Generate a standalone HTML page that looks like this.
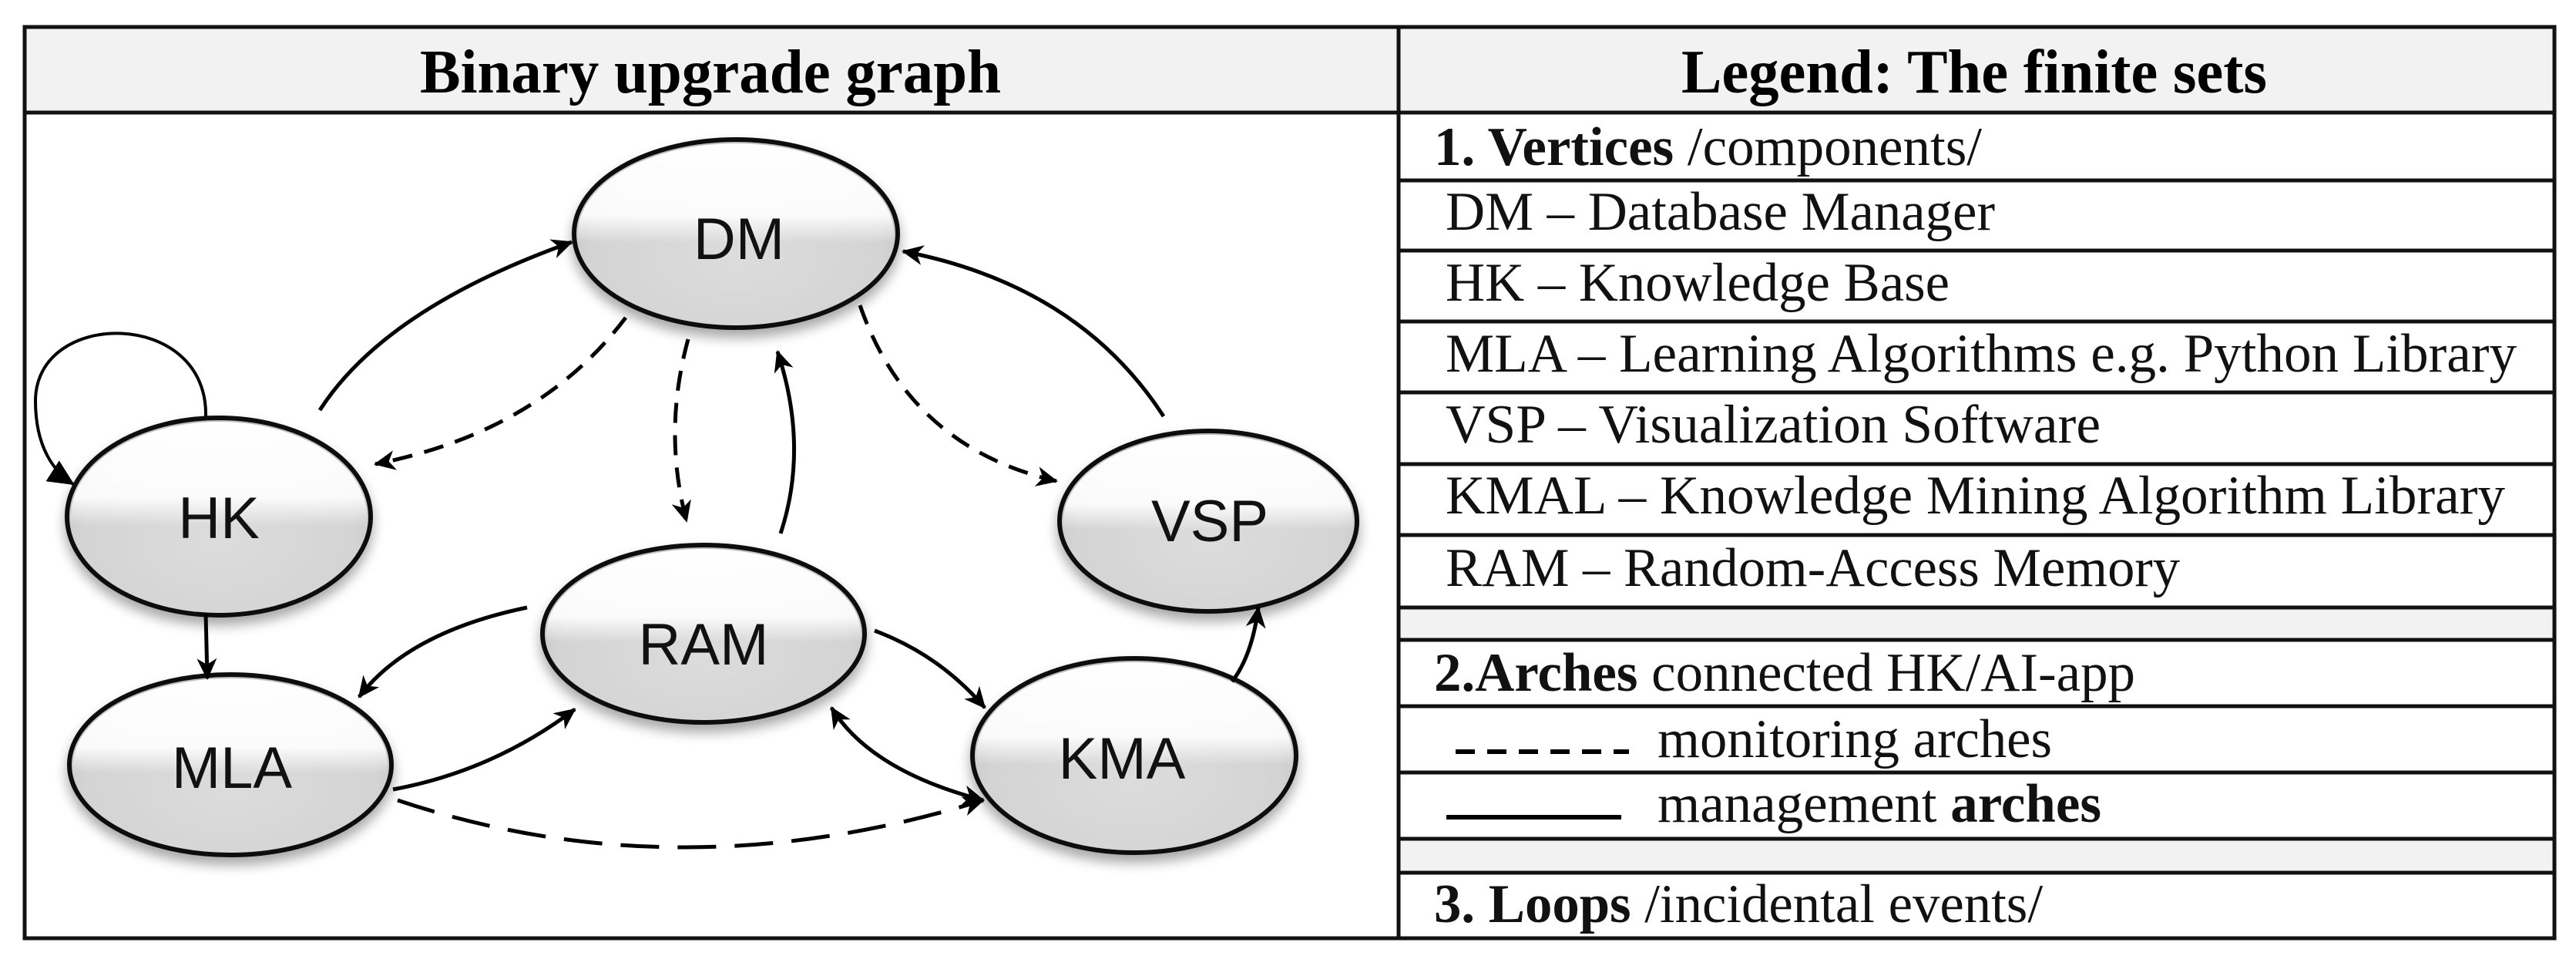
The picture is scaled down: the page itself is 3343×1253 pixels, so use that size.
<!DOCTYPE html>
<html><head><meta charset="utf-8"><style>html,body{margin:0;padding:0;background:#fff}svg{display:block}</style></head>
<body>
<svg width="3343" height="1253" viewBox="0 0 3343 1253" xmlns="http://www.w3.org/2000/svg">
<defs>
<radialGradient id="g" cx="0.5" cy="0.62" r="0.6">
<stop offset="0" stop-color="#dcdcdc"/><stop offset="0.75" stop-color="#d4d4d4"/><stop offset="1" stop-color="#bdbdbd"/>
</radialGradient>
<linearGradient id="hl" x1="0" y1="0" x2="0" y2="1">
<stop offset="0" stop-color="#fff" stop-opacity="1"/><stop offset="0.4" stop-color="#fff" stop-opacity="0.9"/><stop offset="0.55" stop-color="#fff" stop-opacity="0"/>
</linearGradient>
<filter id="sh" x="-20%" y="-20%" width="140%" height="150%"><feGaussianBlur in="SourceAlpha" stdDeviation="8"/><feOffset dy="10"/><feComponentTransfer><feFuncA type="linear" slope="0.35"/></feComponentTransfer><feMerge><feMergeNode/><feMergeNode in="SourceGraphic"/></feMerge></filter>
<marker id="a" markerUnits="userSpaceOnUse" markerWidth="30" markerHeight="30" refX="26" refY="13" orient="auto-start-reverse" viewBox="0 0 30 26">
<path d="M0,0 L28,13 L0,26 L8,13 z" fill="#000"/></marker>
<marker id="f" markerUnits="userSpaceOnUse" markerWidth="34" markerHeight="34" refX="30" refY="15" orient="auto" viewBox="0 0 32 30">
<path d="M0,0 L32,15 L0,30 z" fill="#000"/></marker>
</defs>

<rect x="32" y="35" width="3283" height="111" fill="#f2f2f2"/>
<rect x="1815" y="788" width="1500" height="42" fill="#f2f2f2"/>
<rect x="1815" y="1088" width="1500" height="44" fill="#f2f2f2"/>
<g stroke="#111" stroke-width="5" fill="none">
<rect x="32" y="35" width="3283" height="1182"/>
<line x1="32" y1="146" x2="3315" y2="146"/>
<line x1="1815" y1="35" x2="1815" y2="1217"/>
<line x1="1815" y1="234" x2="3315" y2="234"/>
<line x1="1815" y1="325" x2="3315" y2="325"/>
<line x1="1815" y1="417" x2="3315" y2="417"/>
<line x1="1815" y1="509" x2="3315" y2="509"/>
<line x1="1815" y1="602" x2="3315" y2="602"/>
<line x1="1815" y1="694" x2="3315" y2="694"/>
<line x1="1815" y1="788" x2="3315" y2="788"/>
<line x1="1815" y1="830" x2="3315" y2="830"/>
<line x1="1815" y1="916" x2="3315" y2="916"/>
<line x1="1815" y1="1002" x2="3315" y2="1002"/>
<line x1="1815" y1="1088" x2="3315" y2="1088"/>
<line x1="1815" y1="1132" x2="3315" y2="1132"/>
</g>

<g font-family="Liberation Serif, serif" font-weight="bold" font-size="80" fill="#000">
<text x="545" y="120" textLength="754" lengthAdjust="spacingAndGlyphs">Binary upgrade graph</text>
<text x="2182" y="120" textLength="760" lengthAdjust="spacingAndGlyphs">Legend: The finite sets</text>
</g>
<g font-family="Liberation Serif, serif" font-size="71" fill="#111">
<text x="1861" y="214" textLength="711" lengthAdjust="spacingAndGlyphs"><tspan font-weight="bold">1. Vertices</tspan> /components/</text>
<text x="1876" y="298" textLength="713" lengthAdjust="spacingAndGlyphs">DM – Database Manager</text>
<text x="1876" y="390" textLength="654" lengthAdjust="spacingAndGlyphs">HK – Knowledge Base</text>
<text x="1876" y="482" textLength="1390" lengthAdjust="spacingAndGlyphs">MLA – Learning Algorithms e.g. Python Library</text>
<text x="1876" y="574" textLength="850" lengthAdjust="spacingAndGlyphs">VSP – Visualization Software</text>
<text x="1876" y="666" textLength="1375" lengthAdjust="spacingAndGlyphs">KMAL – Knowledge Mining Algorithm Library</text>
<text x="1876" y="760" textLength="953" lengthAdjust="spacingAndGlyphs">RAM – Random-Access Memory</text>
<text x="1861" y="896" textLength="910" lengthAdjust="spacingAndGlyphs"><tspan font-weight="bold">2.Arches</tspan> connected HK/AI-app</text>
<text x="2151" y="982" textLength="512" lengthAdjust="spacingAndGlyphs">monitoring arches</text>
<text x="2151" y="1066" textLength="576" lengthAdjust="spacingAndGlyphs">management <tspan font-weight="bold">arches</tspan></text>
<text x="1861" y="1196" textLength="790" lengthAdjust="spacingAndGlyphs"><tspan font-weight="bold">3. Loops</tspan> /incidental events/</text>
</g>
<line x1="1889" y1="975" x2="2114" y2="975" stroke="#000" stroke-width="6" stroke-dasharray="25 16"/>
<line x1="1877" y1="1060" x2="2104" y2="1060" stroke="#000" stroke-width="6"/>

<g stroke="#111" stroke-width="6" filter="url(#sh)">
<ellipse cx="955" cy="303" rx="210" ry="122" fill="url(#g)"/>
<ellipse cx="284" cy="670" rx="197" ry="128" fill="url(#g)"/>
<ellipse cx="1568" cy="676" rx="193" ry="117" fill="url(#g)"/>
<ellipse cx="913" cy="822" rx="209" ry="115" fill="url(#g)"/>
<ellipse cx="299" cy="992" rx="209" ry="117" fill="url(#g)"/>
<ellipse cx="1472" cy="980" rx="210" ry="126" fill="url(#g)"/>
</g>
<g fill="url(#hl)">
<ellipse cx="955" cy="303" rx="205" ry="117"/>
<ellipse cx="284" cy="670" rx="192" ry="123"/>
<ellipse cx="1568" cy="676" rx="188" ry="112"/>
<ellipse cx="913" cy="822" rx="204" ry="110"/>
<ellipse cx="299" cy="992" rx="204" ry="112"/>
<ellipse cx="1472" cy="980" rx="205" ry="121"/>
</g>
<g font-family="Liberation Sans, DejaVu Sans, sans-serif" font-size="76" fill="#111" text-anchor="middle">
<text x="959" y="336">DM</text>
<text x="284" y="698">HK</text>
<text x="1570" y="702">VSP</text>
<text x="913" y="862">RAM</text>
<text x="301" y="1022">MLA</text>
<text x="1456" y="1010">KMA</text>
</g>

<g fill="none" stroke="#000" stroke-width="5">
<path d="M415,532 Q500,400 742,314" marker-end="url(#a)"/>
<path d="M267,540 C270,400 46,400 46,520 C46,580 70,612 95,628" stroke-width="4" marker-end="url(#f)"/>
<path d="M812,412 Q700,560 487,602" stroke-dasharray="26 16" marker-end="url(#a)"/>
<path d="M893,440 Q860,560 891,676" stroke-dasharray="26 16" marker-end="url(#a)"/>
<path d="M1013,692 Q1050,580 1009,456" marker-end="url(#a)"/>
<path d="M1116,396 Q1180,580 1371,624" stroke-dasharray="26 16" marker-end="url(#a)"/>
<path d="M1510,540 Q1400,370 1172,326" marker-end="url(#a)"/>
<path d="M267,796 L269,880" marker-end="url(#a)"/>
<path d="M684,788 Q530,820 466,904" marker-end="url(#a)"/>
<path d="M510,1024 Q640,1000 746,920" marker-end="url(#a)"/>
<path d="M1135,818 Q1220,850 1278,918" marker-end="url(#a)"/>
<path d="M1276,1038 Q1130,1000 1079,918" marker-start="url(#a)" marker-end="url(#a)"/>
<path d="M1599,884 Q1625,850 1633,788" marker-end="url(#a)"/>
<path d="M516,1038 Q880,1160 1276,1038" stroke-dasharray="50 24" marker-end="url(#a)"/>
</g>
</svg>
</body></html>
